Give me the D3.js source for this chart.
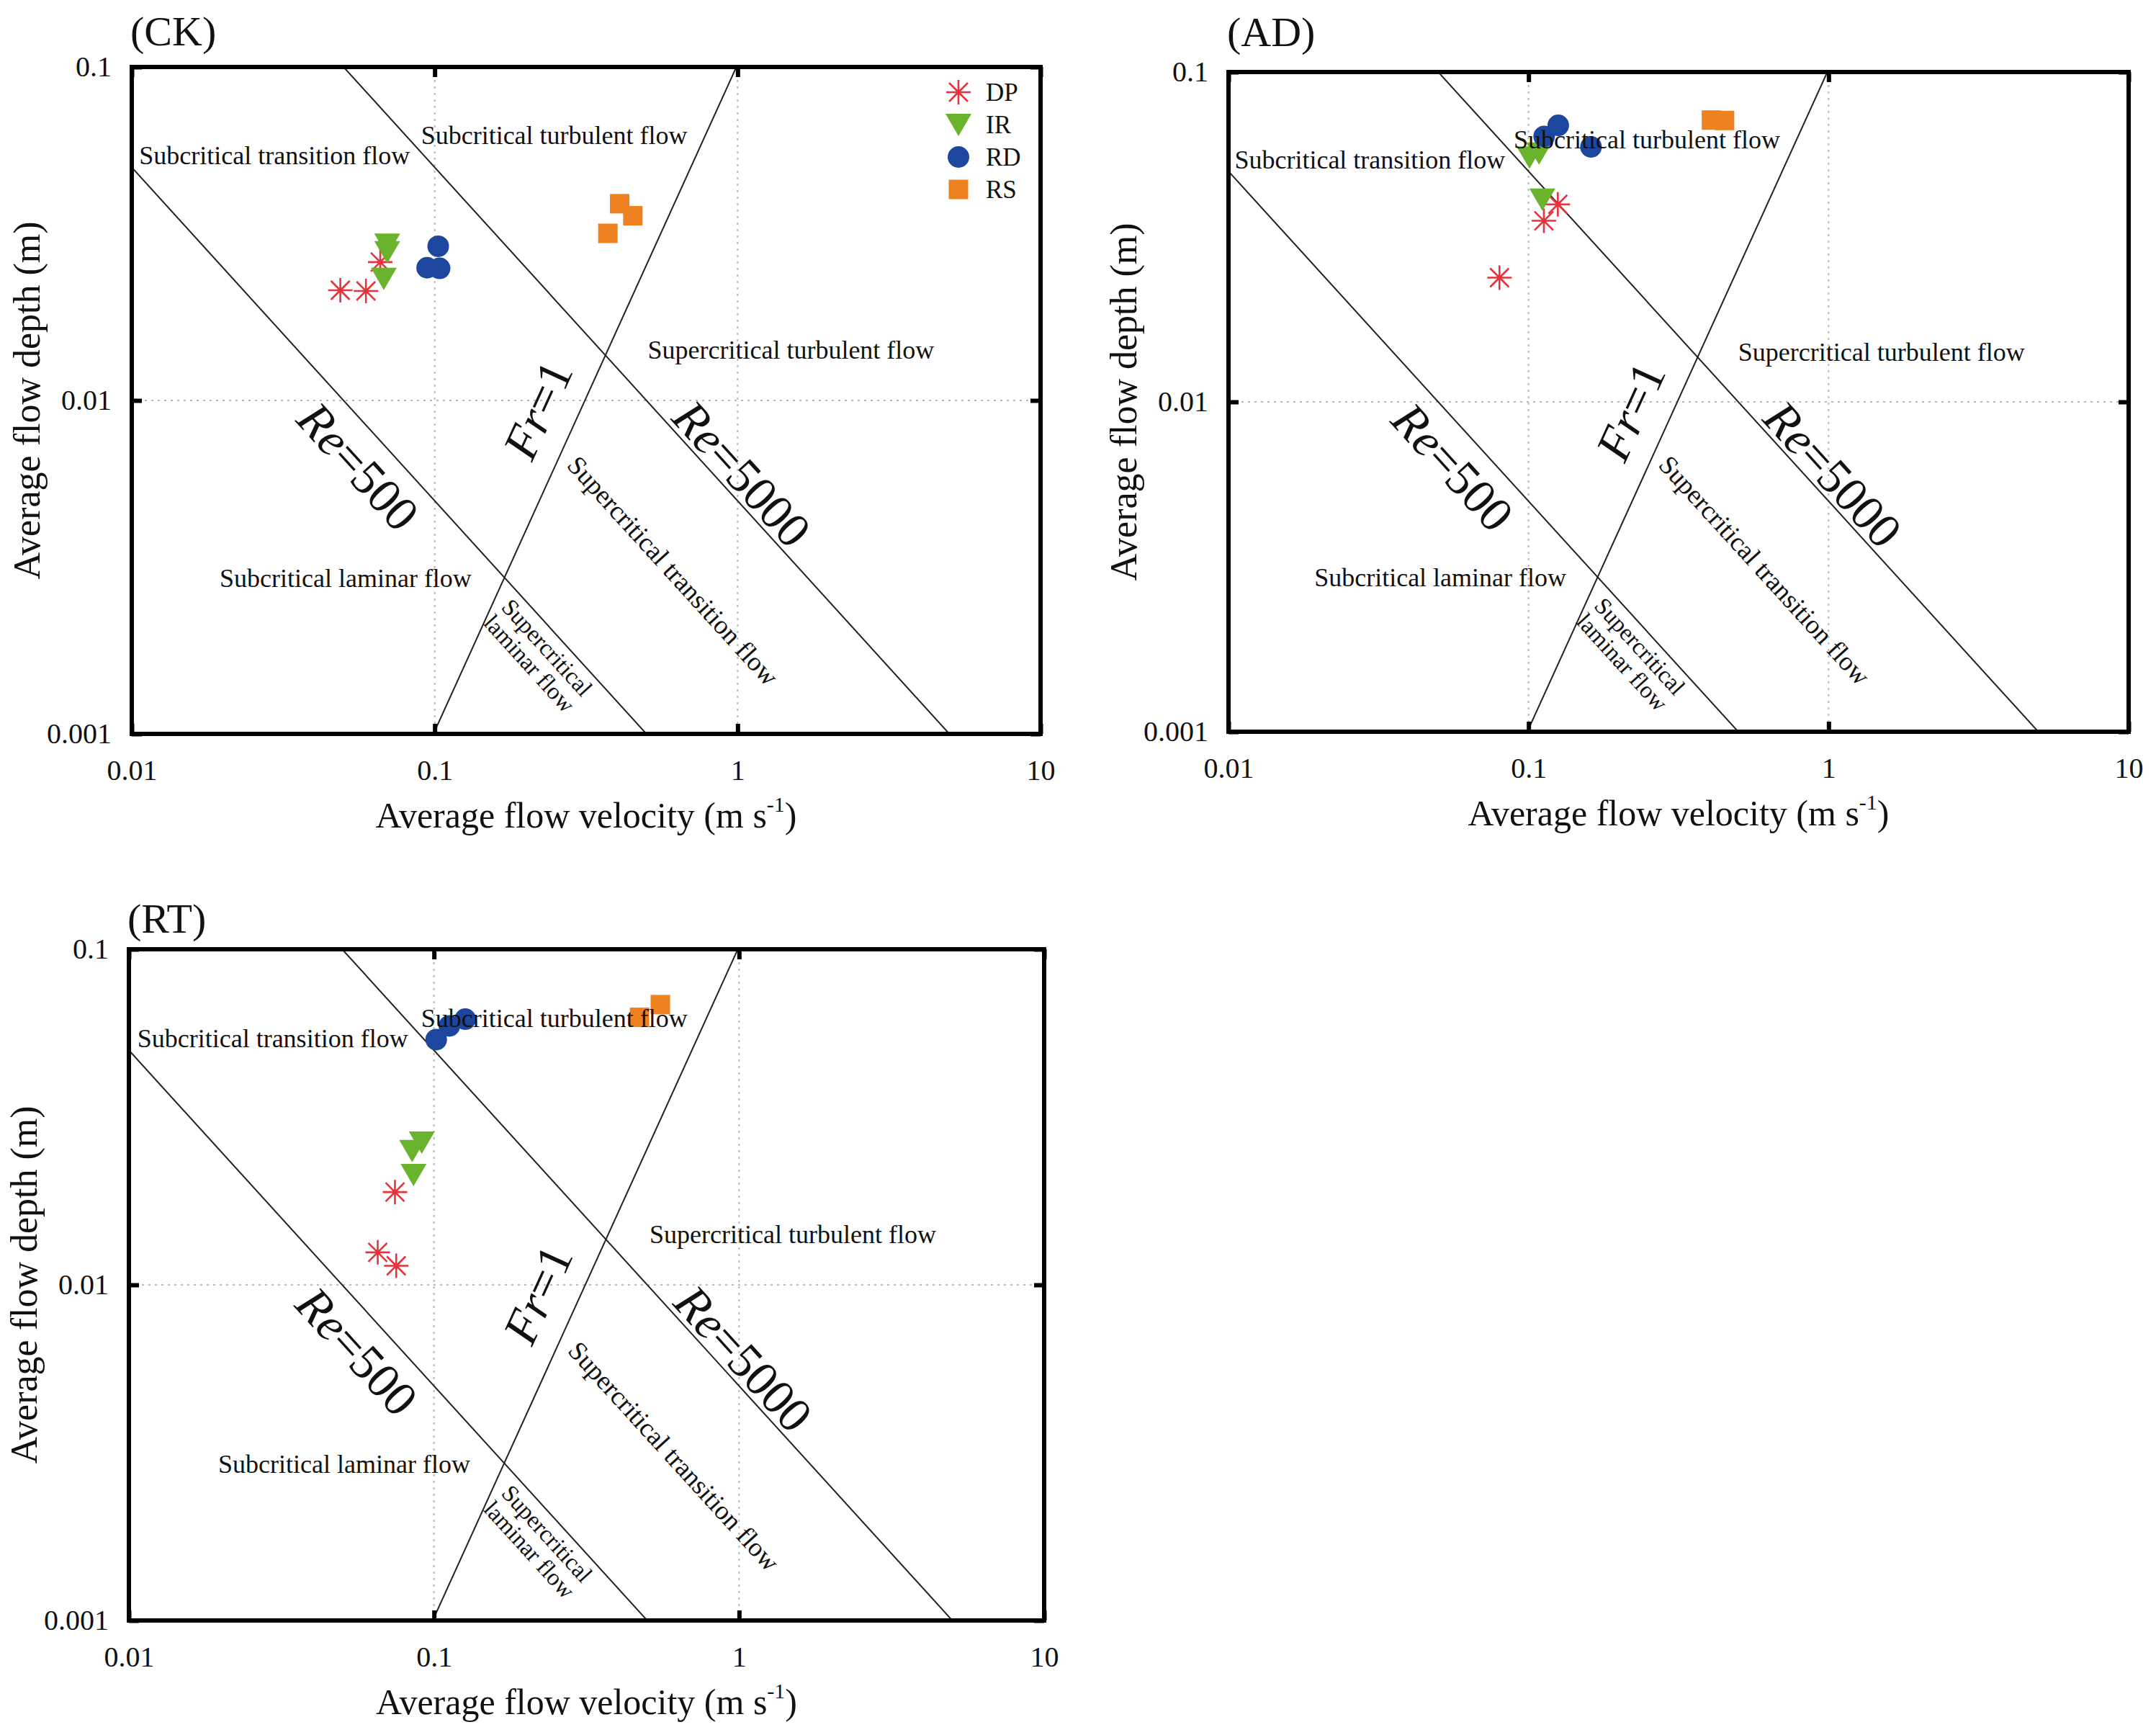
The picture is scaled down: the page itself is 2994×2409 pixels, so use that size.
<!DOCTYPE html>
<html>
<head>
<meta charset="utf-8">
<script src="https://cdn.jsdelivr.net/npm/d3@7"></script>
<style>
  body { margin: 0; background: #fff; }
  svg { display: block; }
  svg text { font-family: "Liberation Serif", "Times New Roman", serif !important; fill: #111; }
</style>
</head>
<body>
<script>
// ---- data (velocity m/s, depth m) ----
var seriesNames = ["DP", "IR", "RD", "RS"];
var xTicks = [0.01, 0.1, 1, 10];
var xTickLabels = ["0.01", "0.1", "1", "10"];
var yTicks = [0.001, 0.01, 0.1];
var yTickLabels = ["0.001", "0.01", "0.1"];

var ckDP = [[0.0488, 0.0214], [0.0593, 0.0213], [0.0661, 0.0260]];
var ckIR = [[0.0697, 0.0294], [0.0697, 0.0279], [0.0679, 0.0232]];
var ckRD = [[0.1027, 0.0290], [0.0944, 0.0250], [0.1038, 0.0249]];
var ckRS = [[0.408, 0.0389], [0.451, 0.0358], [0.373, 0.0317]];

var adDP = [[0.1252, 0.0397], [0.1125, 0.0354], [0.0800, 0.0238]];
var adIR = [[0.1007, 0.0552], [0.1084, 0.0567], [0.1112, 0.0411]];
var adRD = [[0.1256, 0.0689], [0.1127, 0.0638], [0.1615, 0.0593]];
var adRS = [[0.407, 0.0715], [0.450, 0.0713]];

var rtDP = [[0.0745, 0.0189], [0.0654, 0.0125], [0.0752, 0.0114]];
var rtIR = [[0.0912, 0.0266], [0.0848, 0.0251], [0.0857, 0.0213]];
var rtRD = [[0.1017, 0.0538], [0.1123, 0.0591], [0.1266, 0.0619]];
var rtRS = [[0.472, 0.0627], [0.552, 0.0684]];

// flow regime criteria
var reValues = [500, 5000];
var frValues = [1];
var nu = 1e-6, grav = 9.81;

var regionLabels = ["Subcritical transition flow", "Subcritical turbulent flow",
  "Supercritical turbulent flow", "Subcritical laminar flow",
  "Supercritical transition flow", "Supercritical|laminar flow"];
var criterionLabels = [["Re", "=500"], ["Re", "=5000"], ["Fr", "=1"]];

// ---- layout ----
var W = 2994, H = 2409;
var panels = [
  {id: "CK", data: {DP: ckDP, IR: ckIR, RD: ckRD, RS: ckRS}, left: 183, top: 93, right: 1445, bottom: 1019, labelDy: -30, legend: true},
  {id: "AD", data: {DP: adDP, IR: adIR, RD: adRD, RS: adRS}, left: 1706, top: 100, right: 2956, bottom: 1016, labelDy: -36},
  {id: "RT", data: {DP: rtDP, IR: rtIR, RD: rtRD, RS: rtRS}, left: 179, top: 1318, right: 1450, bottom: 2250, labelDy: -23}
];
var colors = {DP: "#e8323c", IR: "#6ab42d", RD: "#1d479e", RS: "#ef8220"};
var FONT = "'Liberation Serif','Times New Roman',serif";

// label anchor points in data units, rot: 0 / "re" / "fr"
var regionPos = [
  {v: 0.0296, h: 0.0511, rot: 0, size: 36},
  {v: 0.248, h: 0.0587, rot: 0, size: 36},
  {v: 1.50, h: 0.01334, rot: 0, size: 36},
  {v: 0.0508, h: 0.00276, rot: 0, size: 36},
  {v: 0.613, h: 0.00309, rot: "re", size: 37},
  {v: 0.220, h: 0.00172, rot: "re", size: 33}
];
var criterionPos = [
  {v: 0.0561, h: 0.00636, rot: "re"},
  {v: 1.037, h: 0.00605, rot: "re"},
  {v: 0.218, h: 0.00938, rot: "fr"}
];

var svg = d3.select("body").append("svg").attr("width", W).attr("height", H);
svg.append("rect").attr("width", W).attr("height", H).attr("fill", "#fff");

function drawMarker(sel, s) {
  if (s === "DP") {
    sel.append("path")
      .attr("d", "M-17,0H17M0,-17V17M-13,-13L13,13M-13,13L13,-13")
      .attr("stroke", colors.DP).attr("stroke-width", 2.6).attr("fill", "none");
    sel.append("circle").attr("r", 3.5).attr("fill", colors.DP);
  } else if (s === "IR") {
    sel.append("path").attr("d", "M-18,-15L18,-15L0,16Z").attr("fill", colors.IR);
  } else if (s === "RD") {
    sel.append("circle").attr("r", 15).attr("fill", colors.RD);
  } else {
    sel.append("rect").attr("x", -13.5).attr("y", -13.5).attr("width", 27).attr("height", 27).attr("fill", colors.RS);
  }
}

panels.forEach(function(p) {
  var x = d3.scaleLog().domain([0.01, 10]).range([p.left, p.right]);
  var y = d3.scaleLog().domain([0.001, 0.1]).range([p.bottom, p.top]);
  var g = svg.append("g").style("font-family", FONT);

  var clipId = "clip-" + p.id;
  svg.append("clipPath").attr("id", clipId).append("rect")
    .attr("x", p.left).attr("y", p.top)
    .attr("width", p.right - p.left).attr("height", p.bottom - p.top);

  // dotted grid at inner decades
  g.selectAll(".gx").data(xTicks.slice(1, -1)).join("line")
    .attr("x1", function(d) { return x(d); }).attr("x2", function(d) { return x(d); })
    .attr("y1", p.top).attr("y2", p.bottom)
    .attr("stroke", "#b8b8b8").attr("stroke-width", 2).attr("stroke-dasharray", "3,6");
  g.selectAll(".gy").data(yTicks.slice(1, -1)).join("line")
    .attr("y1", function(d) { return y(d); }).attr("y2", function(d) { return y(d); })
    .attr("x1", p.left).attr("x2", p.right)
    .attr("stroke", "#b8b8b8").attr("stroke-width", 2).attr("stroke-dasharray", "3,6");

  // criterion lines
  var lineGen = d3.line().x(function(d) { return x(d[0]); }).y(function(d) { return y(d[1]); });
  var lg = g.append("g").attr("clip-path", "url(#" + clipId + ")");
  reValues.forEach(function(re) {
    lg.append("path").attr("d", lineGen([[0.01, re * nu / 0.01], [10, re * nu / 10]]))
      .attr("stroke", "#222").attr("stroke-width", 2).attr("fill", "none");
  });
  frValues.forEach(function(fr) {
    var pts = [[0.01, Math.pow(0.01 / fr, 2) / grav], [10, Math.pow(10 / fr, 2) / grav]];
    lg.append("path").attr("d", lineGen(pts))
      .attr("stroke", "#222").attr("stroke-width", 2).attr("fill", "none");
  });

  // markers
  seriesNames.forEach(function(s) {
    p.data[s].forEach(function(d) {
      var m = g.append("g").attr("transform", "translate(" + x(d[0]) + "," + y(d[1]) + ")");
      drawMarker(m, s);
    });
  });

  // angles along the criterion lines
  var reAngle = Math.atan2(y(0.001) - y(0.01), x(0.5) - x(0.05)) * 180 / Math.PI;
  var frAngle = Math.atan2(y(0.1) - y(0.001), x(1) - x(0.1)) * 180 / Math.PI;
  function ang(r) { return r === "re" ? reAngle : (r === "fr" ? frAngle : 0); }

  // region labels
  regionLabels.forEach(function(txt, i) {
    var pos = regionPos[i];
    var t = g.append("text")
      .attr("transform", "translate(" + x(pos.v) + "," + y(pos.h) + ") rotate(" + ang(pos.rot) + ")")
      .attr("text-anchor", "middle").attr("font-size", pos.size);
    var parts = txt.split("|");
    if (parts.length === 1) {
      t.attr("dy", pos.rot ? "0.35em" : 0).text(txt);
    } else {
      parts.forEach(function(line, k) {
        t.append("tspan").attr("x", 0).attr("dy", k === 0 ? "-0.15em" : "1.0em").text(line);
      });
    }
  });

  // criterion labels
  criterionLabels.forEach(function(c, i) {
    var pos = criterionPos[i];
    var t = g.append("text")
      .attr("transform", "translate(" + x(pos.v) + "," + y(pos.h) + ") rotate(" + ang(pos.rot) + ")")
      .attr("text-anchor", "middle").attr("dy", "0.35em").attr("font-size", 68);
    t.append("tspan").attr("font-style", "italic").text(c[0]);
    t.append("tspan").text(c[1]);
  });

  // axes
  var ax = g.append("g").attr("transform", "translate(0," + p.bottom + ")")
    .call(d3.axisBottom(x).tickValues(xTicks).tickFormat(function(d, i) { return xTickLabels[i]; })
      .tickSizeInner(-14).tickSizeOuter(0).tickPadding(36));
  var axt = g.append("g").attr("transform", "translate(0," + p.top + ")")
    .call(d3.axisTop(x).tickValues(xTicks).tickFormat("").tickSizeInner(-14).tickSizeOuter(0));
  var ay = g.append("g").attr("transform", "translate(" + p.left + ",0)")
    .call(d3.axisLeft(y).tickValues(yTicks).tickFormat(function(d, i) { return yTickLabels[i]; })
      .tickSizeInner(-14).tickSizeOuter(0).tickPadding(28));
  var ayr = g.append("g").attr("transform", "translate(" + p.right + ",0)")
    .call(d3.axisRight(y).tickValues(yTicks).tickFormat("").tickSizeInner(-14).tickSizeOuter(0));
  [ax, axt, ay, ayr].forEach(function(a) {
    a.attr("font-family", null).attr("font-size", null);
    a.select(".domain").remove();
    a.selectAll(".tick line").attr("stroke", "#000").attr("stroke-width", 6);
    a.selectAll(".tick text").attr("font-size", 40).attr("fill", "#111")
      .style("font-family", FONT);
  });

  // frame
  g.append("rect").attr("x", p.left).attr("y", p.top)
    .attr("width", p.right - p.left).attr("height", p.bottom - p.top)
    .attr("fill", "none").attr("stroke", "#000").attr("stroke-width", 6);

  // axis titles
  var xt = g.append("text").attr("x", (p.left + p.right) / 2).attr("y", p.bottom + 130)
    .attr("text-anchor", "middle").attr("font-size", 50);
  xt.append("tspan").text("Average flow velocity (m s");
  xt.append("tspan").attr("dy", "-0.75em").attr("font-size", 30).text("-1");
  xt.append("tspan").attr("dy", "0.45em").text(")");

  g.append("text").attr("transform", "translate(" + (p.left - 128) + "," + ((p.top + p.bottom) / 2) + ") rotate(-90)")
    .attr("text-anchor", "middle").attr("font-size", 52).text("Average flow depth (m)");

  // panel label
  g.append("text").attr("x", p.left - 2).attr("y", p.top + p.labelDy)
    .attr("font-size", 58).text("(" + p.id + ")");

  // legend
  if (p.legend) {
    seriesNames.forEach(function(s, i) {
      var ly = p.top + 35 + i * 45;
      var m = g.append("g").attr("transform", "translate(" + (p.right - 114) + "," + ly + ")");
      drawMarker(m, s);
      g.append("text").attr("x", p.right - 76).attr("y", ly).attr("dy", "0.35em")
        .attr("font-size", 35).text(s);
    });
  }
});
</script>
</body>
</html>
